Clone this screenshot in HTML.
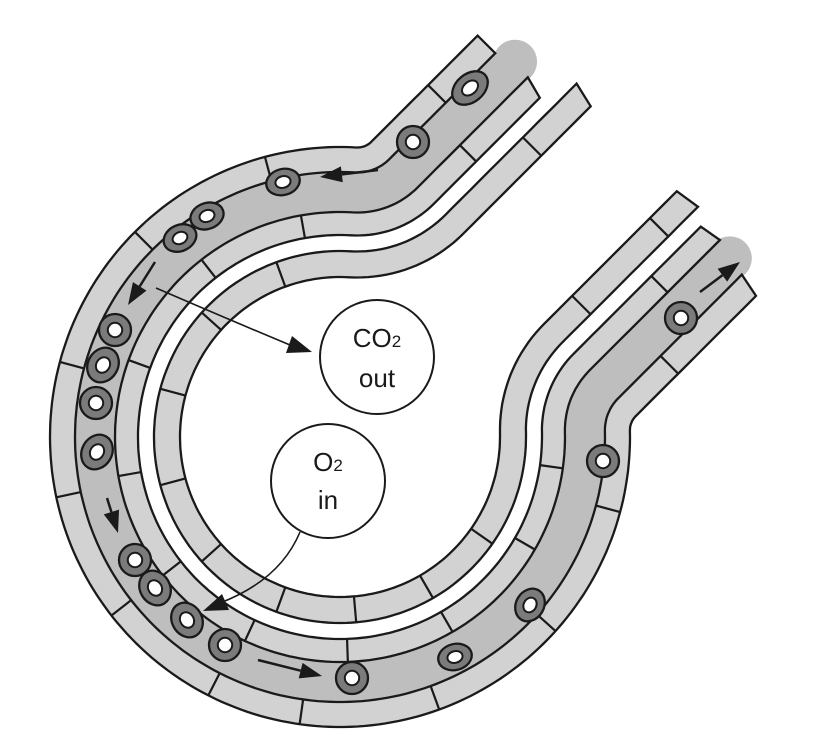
<!DOCTYPE html>
<html><head><meta charset="utf-8"><style>
html,body{margin:0;padding:0;background:#fff;width:838px;height:753px;overflow:hidden}
svg{display:block}
</style></head><body>
<svg id="s" width="838" height="753" viewBox="0 0 838 753" xmlns="http://www.w3.org/2000/svg">
<g id="g"></g>
</svg>
<script>
(function(){
const NS="http://www.w3.org/2000/svg";
const g=document.getElementById('g');
const O=[340,437], R0=160, rho=150, D=R0+rho;
const r=Math.PI/180, k=Math.SQRT1_2, s2=Math.SQRT2;
const a1=Math.asin(((697-rho*s2-777)/D)/s2)-45*r;
const a2=Math.asin(((868+rho*s2-777)/D)/s2)-45*r;
const C1=[O[0]+D*Math.cos(a1),O[1]+D*Math.sin(a1)];
const T1=[C1[0]+rho*k,C1[1]+rho*k];
const C2=[O[0]+D*Math.cos(a2),O[1]+D*Math.sin(a2)];
const T2=[C2[0]-rho*k,C2[1]-rho*k];
function up(d,s){return [T1[0]-d*k+s*k, T1[1]-d*k-s*k];}
function rt(d,s){return [T2[0]+d*k+s*k, T2[1]+d*k-s*k];}
function ring(d,p){return [O[0]+(R0+d)*Math.cos(p*r),O[1]+(R0+d)*Math.sin(p*r)];}
function curve(d,Su,Sr){
  const pts=[];const N=20;
  for(let i=0;i<=N;i++){pts.push(up(d,Su*(1-i/N)));}
  const b0=45,b1=a1/r+180;
  for(let i=1;i<=N;i++){const b=(b0+(b1-b0)*i/N)*r;pts.push([C1[0]+(rho-d)*Math.cos(b),C1[1]+(rho-d)*Math.sin(b)]);}
  const p0=a1/r,p1=a2/r-360;const M=200;
  for(let i=1;i<=M;i++){pts.push(ring(d,p0+(p1-p0)*i/M));}
  const c0=a2/r+180,c1=225;
  for(let i=1;i<=N;i++){const b=(c0+(c1-c0)*i/N)*r;pts.push([C2[0]+(rho-d)*Math.cos(b),C2[1]+(rho-d)*Math.sin(b)]);}
  for(let i=1;i<=N;i++){pts.push(rt(d,Sr*i/N));}
  return pts;
}
function el(n,a){const e=document.createElementNS(NS,n);for(const x in a)e.setAttribute(x,a[x]);g.appendChild(e);return e;}
function band(d1,d2,Su1,Sr1,Su2,Sr2,fill,stroke){
  const A=curve(d1,Su1,Sr1),B=curve(d2,Su2,Sr2).reverse();
  const all=A.concat(B);
  el('path',{d:'M'+all.map(p=>p[0].toFixed(1)+','+p[1].toFixed(1)).join('L')+'Z',fill:fill,stroke:stroke?'#1a1a1a':'none','stroke-width':2.3,'stroke-linejoin':'miter'});
}
const LG='#d2d2d3', BG='#bebebf';
band(64,106,160,180,160,180,BG,false);
el('circle',{cx:up(85,158)[0],cy:up(85,158)[1],r:22,fill:BG});
el('circle',{cx:rt(85,178)[0],cy:rt(85,178)[1],r:22,fill:BG});
band(0,26,180,188,186,192,LG,true);
band(42,65,150,180,156,184,LG,true);
band(105,130,150,175,150,170,LG,true);
function rl(d1,d2,p){const a=ring(d1,p),b=ring(d2,p);el('line',{x1:a[0],y1:a[1],x2:b[0],y2:b[1],stroke:'#1a1a1a','stroke-width':2.2});}
function al(f,d1,d2,s){const a=f(d1,s),b=f(d2,s);el('line',{x1:a[0],y1:a[1],x2:b[0],y2:b[1],stroke:'#1a1a1a','stroke-width':2.2});}
[-110,-138,-165,-195,-222,-250,-275,-300,-325].forEach(p=>rl(0,26,p));
[-100,-128,-160,-190,-218,-245,-272,-300,-330,-352].forEach(p=>rl(42,65,p));
[-105,-135,-165,-192,-218,-243,-262,-290,-318,-345].forEach(p=>rl(105,130,p));
al(up,0,26,110);al(up,42,65,60);al(up,105,130,80);
al(rt,0,26,40);al(rt,0,26,150);al(rt,42,65,110);al(rt,105,130,60);
const cells=[[470,88,20,14,-40],[413,142,16,16,0],[283,182,17,13,-15],[207,216,17,13,-20],[180,238,17,13,-25],[115,330,16,16,0],[103,365,15,18,30],[96,403,16,16,0],[97,452,15,18,30],[135,560,16,16,0],[155,588,15,18,-30],[187,620,15,18,-30],[225,645,16,16,0],[352,678,16,16,0],[455,657,17,13,-15],[530,605,14,17,30],[603,461,16,16,0],[681,318,16,16,0]];
cells.forEach(c=>{
  el('ellipse',{cx:c[0],cy:c[1],rx:c[2],ry:c[3],transform:`rotate(${c[4]} ${c[0]} ${c[1]})`,fill:'#7b7b7c',stroke:'#1a1a1a','stroke-width':2.3});
  el('ellipse',{cx:c[0],cy:c[1],rx:c[2]*0.45,ry:c[3]*0.45,transform:`rotate(${c[4]} ${c[0]} ${c[1]})`,fill:'#fff',stroke:'#1a1a1a','stroke-width':2});
});
function barrow(x1,y1,x2,y2){
  const dx=x2-x1,dy=y2-y1,L=Math.hypot(dx,dy),ux=dx/L,uy=dy/L,h=22,w=8;
  const bx=x2-ux*h,by=y2-uy*h;
  el('line',{x1:x1,y1:y1,x2:bx,y2:by,stroke:'#1a1a1a','stroke-width':2.5});
  el('polygon',{points:`${x2},${y2} ${bx-uy*w},${by+ux*w} ${bx+uy*w},${by-ux*w}`,fill:'#1a1a1a'});
}
barrow(378,170,320,177);barrow(155,262,128,305);barrow(107,498,118,533);barrow(258,660,322,676);barrow(700,292,740,262);
el('path',{d:'M156,288 Q230,320 290,345',fill:'none',stroke:'#1a1a1a','stroke-width':1.6});
el('polygon',{points:'312,352 286,353 292,336',fill:'#1a1a1a'});
el('path',{d:'M300,532 Q280,580 220,603',fill:'none',stroke:'#1a1a1a','stroke-width':1.6});
el('polygon',{points:'203,611 222,594 229,610',fill:'#1a1a1a'});
el('circle',{cx:377,cy:357,r:57,fill:'#fff',stroke:'#1a1a1a','stroke-width':2});
el('circle',{cx:328,cy:481,r:57,fill:'#fff',stroke:'#1a1a1a','stroke-width':2});
function txt(x,y,s,sub){const t=el('text',{x:x,y:y,'text-anchor':'middle','font-family':'Liberation Sans, sans-serif','font-size':26,fill:'#1a1a1a'});t.textContent=s;if(sub){const ts=document.createElementNS(NS,'tspan');ts.setAttribute('font-size','17');ts.textContent=sub;t.appendChild(ts);}}
txt(377,347,'CO','2');txt(377,387,'out');
txt(328,471,'O','2');txt(328,509,'in');
})();
</script>
</body></html>
